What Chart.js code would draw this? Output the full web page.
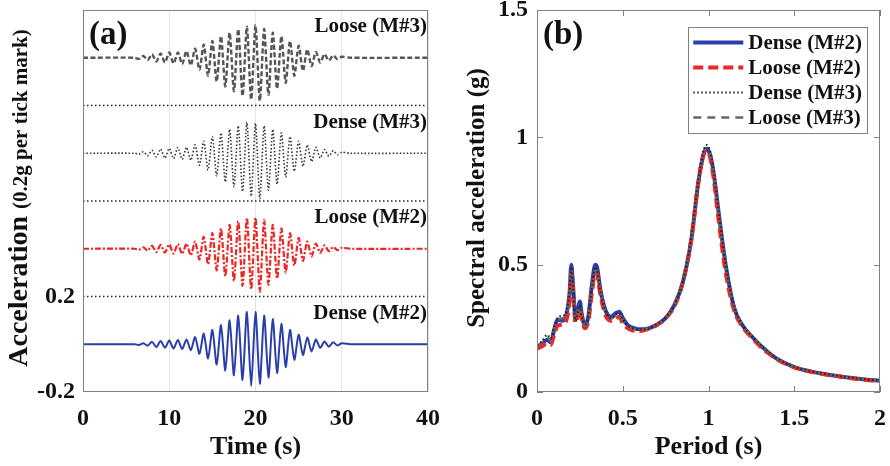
<!DOCTYPE html>
<html lang="en">
<head>
<meta charset="UTF-8">
<title>Acceleration time histories and response spectra</title>
<style>
  body { margin: 0; background: #fff; }
  .row { display: flex; width: 890px; height: 466px; }
  .panel { width: 445px; height: 466px; }
</style>
</head>
<body>
<div class="row">
  <div class="panel"><canvas id="histChart" width="445" height="466"></canvas></div>
  <div class="panel"><canvas id="spectraChart" width="445" height="466"></canvas></div>
</div>

<script src="https://cdn.jsdelivr.net/npm/chart.js"></script>
<script>
// ---------- panel (a): acceleration time histories (g) ----------
const time = [0, 6,
  6.5, 7, 7.5, 8, 8.5, 9, 9.5, 10,
  10.5, 11, 11.5, 12, 12.5, 13, 13.5, 14,
  14.5, 15, 15.5, 16, 16.5, 17, 17.5, 18,
  18.5, 19, 19.5, 20, 20.5, 21, 21.5, 22,
  22.5, 23, 23.5, 24, 24.5, 25, 25.5, 26,
  26.5, 27, 27.5, 28, 28.5, 29, 29.5, 30,
  31, 40];

const accDenseM2 = [0, 0,
  -0.003, 0.004, -0.006, 0.01, -0.012, 0.014, -0.015, 0.016,
  -0.018, 0.018, -0.02, 0.02, -0.025, 0.03, -0.04, 0.045,
  -0.06, 0.06, -0.085, 0.08, -0.11, 0.1, -0.13, 0.12,
  -0.15, 0.135, -0.175, 0.135, -0.165, 0.12, -0.14, 0.105,
  -0.12, 0.085, -0.095, 0.06, -0.065, 0.04, -0.045, 0.028,
  -0.03, 0.02, -0.015, 0.012, -0.01, 0.008, -0.005, 0.004,
  0, 0];

const accLooseM2 = [0, 0,
  -0.004, 0.006, -0.008, 0.012, -0.014, 0.016, -0.016, 0.018,
  -0.02, 0.02, -0.022, 0.022, -0.028, 0.03, -0.045, 0.05,
  -0.065, 0.065, -0.09, 0.085, -0.115, 0.1, -0.135, 0.115,
  -0.155, 0.13, -0.17, 0.13, -0.18, 0.12, -0.15, 0.1,
  -0.125, 0.085, -0.1, 0.065, -0.07, 0.045, -0.05, 0.03,
  -0.032, 0.022, -0.018, 0.014, -0.01, 0.008, -0.006, 0.004,
  0, 0];

const accDenseM3 = [0, 0,
  -0.004, 0.006, -0.01, 0.012, -0.015, 0.018, -0.02, 0.02,
  -0.022, 0.024, -0.025, 0.025, -0.03, 0.035, -0.05, 0.05,
  -0.07, 0.07, -0.095, 0.085, -0.12, 0.1, -0.14, 0.115,
  -0.16, 0.13, -0.18, 0.125, -0.19, 0.115, -0.155, 0.1,
  -0.13, 0.085, -0.1, 0.07, -0.075, 0.05, -0.055, 0.035,
  -0.035, 0.025, -0.02, 0.015, -0.012, 0.01, -0.006, 0.004,
  0, 0];

const accLooseM3 = [0, 0,
  -0.005, 0.008, -0.01, 0.014, -0.016, 0.018, -0.02, 0.022,
  -0.024, 0.022, -0.026, 0.028, -0.032, 0.038, -0.05, 0.055,
  -0.075, 0.07, -0.1, 0.09, -0.12, 0.105, -0.14, 0.12,
  -0.16, 0.13, -0.175, 0.135, -0.18, 0.12, -0.155, 0.105,
  -0.13, 0.09, -0.105, 0.07, -0.075, 0.05, -0.055, 0.035,
  -0.035, 0.024, -0.02, 0.015, -0.012, 0.01, -0.006, 0.004,
  0, 0];

const traceNames = ['Dense (M#2)', 'Loose (M#2)', 'Dense (M#3)', 'Loose (M#3)'];
const traceOffsets = [0, 0.4, 0.8, 1.2];   // each trace is shifted up by 0.4 g
const separators = [0.2, 0.6, 1.0];
const histYTicks = [-0.2, 0.2];

// ---------- panel (b): spectral acceleration (g) vs period (s) ----------
const period = [
  0, 0.03, 0.06, 0.08, 0.1, 0.12, 0.15, 0.17, 0.19, 0.2,
  0.21, 0.225, 0.24, 0.25, 0.26, 0.28, 0.3, 0.32, 0.34, 0.35,
  0.37, 0.4, 0.43, 0.46, 0.48, 0.5, 0.53, 0.57, 0.6, 0.65,
  0.7, 0.75, 0.8, 0.85, 0.9, 0.94, 0.97, 0.99, 1.01, 1.03,
  1.06, 1.1, 1.15, 1.2, 1.25, 1.3, 1.35, 1.4, 1.5, 1.6,
  1.7, 1.8, 1.9, 2.0];

const saDenseM2 = [
  0.175, 0.19, 0.205, 0.195, 0.245, 0.285, 0.28, 0.30, 0.39, 0.50,
  0.42, 0.29, 0.33, 0.355, 0.31, 0.26, 0.30, 0.42, 0.50, 0.49,
  0.40, 0.32, 0.295, 0.31, 0.315, 0.29, 0.262, 0.25, 0.246, 0.25,
  0.265, 0.29, 0.34, 0.43, 0.60, 0.82, 0.93, 0.955, 0.93, 0.86,
  0.70, 0.50, 0.33, 0.26, 0.22, 0.185, 0.155, 0.13, 0.098, 0.08,
  0.068, 0.058, 0.05, 0.044];

const saLooseM2 = [
  0.17, 0.18, 0.19, 0.185, 0.225, 0.26, 0.265, 0.28, 0.36, 0.47,
  0.40, 0.27, 0.31, 0.33, 0.29, 0.25, 0.28, 0.39, 0.47, 0.46,
  0.38, 0.30, 0.28, 0.29, 0.295, 0.27, 0.25, 0.24, 0.24, 0.248,
  0.263, 0.29, 0.335, 0.43, 0.60, 0.82, 0.93, 0.95, 0.92, 0.84,
  0.67, 0.47, 0.32, 0.255, 0.215, 0.18, 0.152, 0.128, 0.097, 0.079,
  0.067, 0.057, 0.049, 0.043];

const saDenseM3 = [
  0.185, 0.20, 0.225, 0.21, 0.255, 0.29, 0.30, 0.31, 0.40, 0.49,
  0.41, 0.28, 0.32, 0.34, 0.30, 0.265, 0.30, 0.41, 0.49, 0.48,
  0.39, 0.315, 0.29, 0.305, 0.31, 0.285, 0.26, 0.248, 0.245, 0.25,
  0.266, 0.293, 0.34, 0.435, 0.61, 0.83, 0.945, 0.97, 0.945, 0.87,
  0.70, 0.50, 0.335, 0.262, 0.222, 0.187, 0.157, 0.132, 0.099, 0.081,
  0.069, 0.059, 0.051, 0.045];

const saLooseM3 = [
  0.18, 0.195, 0.215, 0.20, 0.25, 0.28, 0.29, 0.30, 0.38, 0.48,
  0.41, 0.28, 0.32, 0.34, 0.30, 0.26, 0.29, 0.40, 0.48, 0.47,
  0.39, 0.31, 0.288, 0.30, 0.305, 0.28, 0.258, 0.247, 0.244, 0.25,
  0.265, 0.292, 0.338, 0.432, 0.605, 0.825, 0.94, 0.96, 0.935, 0.86,
  0.69, 0.49, 0.33, 0.26, 0.22, 0.186, 0.156, 0.131, 0.098, 0.08,
  0.068, 0.058, 0.05, 0.044];

// ---------- styling ----------
const SERIF = "'Liberation Serif', 'Times New Roman', serif";
const INK = '#111';
const FRAME = '#808080';
const BLUE = 'rgb(42, 62, 172)';
const RED = 'rgb(236, 38, 34)';

Chart.defaults.font.family = SERIF;
Chart.defaults.font.weight = 'bold';
Chart.defaults.color = INK;

function bold(px) { return 'bold ' + px + 'px ' + SERIF; }
function pairs(xs, ys, shift) { return xs.map((x, i) => ({ x: x, y: ys[i] + shift })); }

// frame, titles and labels drawn over the plot
function drawFrame(chart) {
  const { ctx, chartArea: a } = chart;
  ctx.save();
  ctx.strokeStyle = FRAME;
  ctx.lineWidth = 1;
  ctx.strokeRect(Math.round(a.left) + 0.5, Math.round(a.top) + 0.5,
                 Math.round(a.right - a.left) - 1, Math.round(a.bottom - a.top) - 1);
  ctx.restore();
}

function drawYTitle(chart, parts, x) {
  const { ctx, chartArea: a } = chart;
  ctx.save();
  let total = 0;
  const widths = parts.map(p => { ctx.font = bold(p.size); const w = ctx.measureText(p.text).width; total += w; return w; });
  ctx.translate(x, (a.top + a.bottom) / 2 - 3);
  ctx.rotate(-Math.PI / 2);
  ctx.fillStyle = INK;
  ctx.textAlign = 'left';
  ctx.textBaseline = 'alphabetic';
  let cx = -total / 2;
  parts.forEach((p, i) => { ctx.font = bold(p.size); ctx.fillText(p.text, cx, 0); cx += widths[i]; });
  ctx.restore();
}

function drawInwardTicks(chart, len) {
  const { ctx, chartArea: a, scales } = chart;
  ctx.save();
  ctx.strokeStyle = FRAME;
  ctx.lineWidth = 1;
  ctx.beginPath();
  scales.x.ticks.forEach(t => {
    const px = Math.round(scales.x.getPixelForValue(t.value)) + 0.5;
    ctx.moveTo(px, a.bottom); ctx.lineTo(px, a.bottom - len);
    ctx.moveTo(px, a.top); ctx.lineTo(px, a.top + len);
  });
  scales.y.ticks.forEach(t => {
    const py = Math.round(scales.y.getPixelForValue(t.value)) + 0.5;
    ctx.moveTo(a.left, py); ctx.lineTo(a.left + len, py);
    ctx.moveTo(a.right, py); ctx.lineTo(a.right - len, py);
  });
  ctx.stroke();
  ctx.restore();
}

function drawPanelLetter(chart, text) {
  const { ctx, chartArea: a } = chart;
  ctx.save();
  ctx.font = bold(33);
  ctx.fillStyle = INK;
  ctx.textAlign = 'left';
  ctx.textBaseline = 'middle';
  ctx.fillText(text, a.left + 6, a.top + 25);
  ctx.restore();
}

function drawLegendBox(chart, labels) {
  const { ctx, chartArea: a } = chart;
  const sets = chart.data.datasets;
  ctx.save();
  ctx.font = bold(21);
  const textW = Math.max(...labels.map(l => ctx.measureText(l).width));
  const sample = 50, rowH = 25;
  const w = 60 + textW + 5, h = rowH * labels.length + 6;
  const right = a.right - 13, left = right - w, top = a.top + 17;
  ctx.fillStyle = '#fff';
  ctx.fillRect(left, top, w, h);
  ctx.strokeStyle = FRAME;
  ctx.lineWidth = 1;
  ctx.strokeRect(Math.round(left) + 0.5, top + 0.5, Math.round(w), h);
  labels.forEach((label, i) => {
    const d = sets.find(s => s.label === label);
    const cy = top + 3 + rowH * (i + 0.5);
    ctx.strokeStyle = d.borderColor;
    ctx.lineWidth = d.borderWidth;
    ctx.setLineDash(d.borderDash || []);
    ctx.beginPath();
    ctx.moveTo(left + 5, cy);
    ctx.lineTo(left + 5 + sample, cy);
    ctx.stroke();
    ctx.setLineDash([]);
    ctx.fillStyle = INK;
    ctx.textAlign = 'left';
    ctx.textBaseline = 'middle';
    ctx.fillText(label, left + 10 + sample, cy + 1);
  });
  ctx.restore();
}

const histDecor = {
  id: 'histDecor',
  afterDatasetsDraw(chart) {
    const { ctx, scales } = chart;
    drawFrame(chart);
    drawPanelLetter(chart, '(a)');
    drawYTitle(chart, [{ text: 'Acceleration ', size: 28 }, { text: '(0.2g per tick mark)', size: 21 }], 27);
    ctx.save();
    ctx.font = bold(21);
    ctx.fillStyle = INK;
    ctx.textAlign = 'right';
    ctx.textBaseline = 'middle';
    traceNames.forEach((name, i) => {
      ctx.fillText(name, scales.x.getPixelForValue(40) - 1, scales.y.getPixelForValue(traceOffsets[i] + 0.13));
    });
    ctx.restore();
  }
};

const spectraDecor = {
  id: 'spectraDecor',
  afterDatasetsDraw(chart) {
    drawInwardTicks(chart, 6);
    drawFrame(chart);
    drawPanelLetter(chart, '(b)');
    drawYTitle(chart, [{ text: 'Spectral acceleration (g)', size: 25 }], 39);
    drawLegendBox(chart, traceNames);
  }
};

const tickFont = { size: 24, weight: 'bold', family: SERIF };
const titleFont = { size: 26, weight: 'bold', family: SERIF };
const plainNumber = v => String(v);

// ---------- chart (a) ----------
const histStyles = [
  { color: BLUE, width: 2, dash: [] },
  { color: RED, width: 2.2, dash: [6, 2, 2, 2] },
  { color: '#333', width: 1.6, dash: [1.5, 2] },
  { color: '#555', width: 2.4, dash: [5, 2.5] }
];
const histSeries = [accDenseM2, accLooseM2, accDenseM3, accLooseM3];

const histDatasets = histSeries.map((vals, i) => ({
  label: traceNames[i],
  data: pairs(time, vals, traceOffsets[i]),
  borderColor: histStyles[i].color,
  borderWidth: histStyles[i].width,
  borderDash: histStyles[i].dash,
  tension: 0.25,
  pointRadius: 0
}));
separators.forEach(v => {
  histDatasets.push({
    label: 'sep ' + v,
    data: [{ x: 0, y: v }, { x: 40, y: v }],
    borderColor: '#222',
    borderWidth: 1.5,
    borderDash: [1.5, 2.5],
    pointRadius: 0
  });
});

new Chart(document.getElementById('histChart'), {
  type: 'line',
  data: { datasets: histDatasets },
  options: {
    responsive: false,
    animation: false,
    layout: { padding: { top: 10, right: 17, left: 0, bottom: 0 } },
    plugins: { legend: { display: false }, tooltip: { enabled: false } },
    scales: {
      x: {
        type: 'linear', min: 0, max: 40,
        ticks: { stepSize: 10, font: tickFont, padding: 12, color: INK, callback: plainNumber },
        grid: { color: '#e4e4e4', drawTicks: false },
        border: { display: false },
        title: { display: true, text: 'Time (s)', font: titleFont, color: INK, padding: { top: 0, bottom: 3 } },
        afterFit: s => { s.height = 74; s.paddingLeft = 0; s.paddingRight = 0; }
      },
      y: {
        type: 'linear', min: -0.2, max: 1.4,
        afterBuildTicks: s => { s.ticks = histYTicks.map(v => ({ value: v })); },
        ticks: { font: tickFont, padding: 8, color: INK, callback: v => v.toFixed(1) },
        grid: { display: false, drawTicks: false },
        border: { display: false },
        afterFit: s => { s.width = 83; s.paddingTop = 0; s.paddingBottom = 0; }
      }
    }
  },
  plugins: [histDecor]
});

// ---------- chart (b) ----------
const spectra = [
  { label: 'Dense (M#2)', values: saDenseM2, color: BLUE, width: 4, dash: [], order: 4 },
  { label: 'Loose (M#2)', values: saLooseM2, color: RED, width: 4, dash: [10, 5], order: 3 },
  { label: 'Dense (M#3)', values: saDenseM3, color: '#222', width: 2, dash: [1.5, 2.5], order: 1 },
  { label: 'Loose (M#3)', values: saLooseM3, color: '#666', width: 2.5, dash: [8, 6], order: 2 }
];

new Chart(document.getElementById('spectraChart'), {
  type: 'line',
  data: {
    datasets: spectra.map(s => ({
      label: s.label,
      data: pairs(period, s.values, 0),
      borderColor: s.color,
      borderWidth: s.width,
      borderDash: s.dash,
      order: s.order,
      cubicInterpolationMode: 'monotone',
      pointRadius: 0
    }))
  },
  options: {
    responsive: false,
    animation: false,
    layout: { padding: { top: 10, right: 10, left: 0, bottom: 0 } },
    plugins: { legend: { display: false }, tooltip: { enabled: false } },
    scales: {
      x: {
        type: 'linear', min: 0, max: 2,
        ticks: { stepSize: 0.5, font: tickFont, padding: 12, color: INK, callback: plainNumber },
        grid: { display: false, drawTicks: false },
        border: { display: false },
        title: { display: true, text: 'Period (s)', font: titleFont, color: INK, padding: { top: 0, bottom: 3 } },
        afterFit: s => { s.height = 74; s.paddingLeft = 0; s.paddingRight = 0; }
      },
      y: {
        type: 'linear', min: 0, max: 1.5,
        ticks: { stepSize: 0.5, font: tickFont, padding: 9, color: INK, callback: plainNumber },
        grid: { display: false, drawTicks: false },
        border: { display: false },
        afterFit: s => { s.width = 92; s.paddingTop = 0; s.paddingBottom = 0; }
      }
    }
  },
  plugins: [spectraDecor]
});
</script>
</body>
</html>
